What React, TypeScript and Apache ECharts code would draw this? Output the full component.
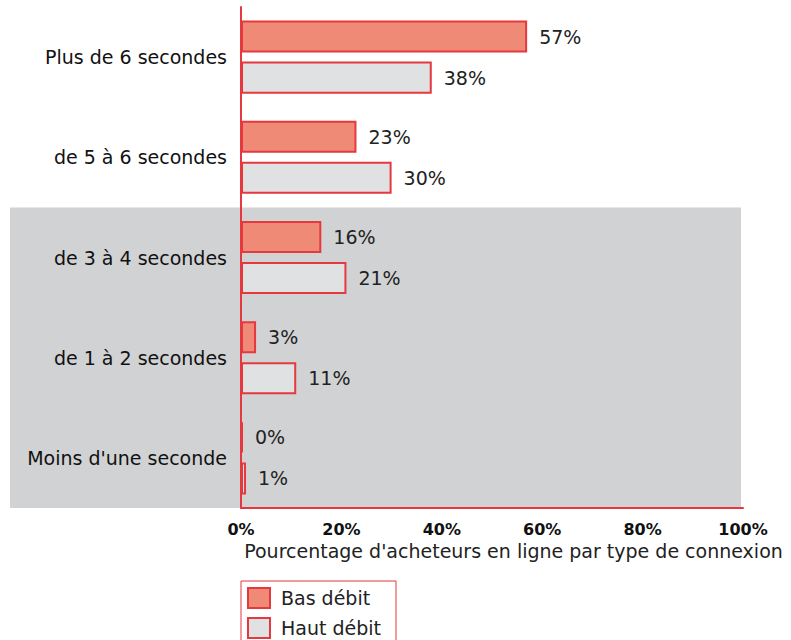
import React, { useEffect, useRef } from "react";
import * as echarts from "echarts";

const categories = [
  "Plus de 6 secondes",
  "de 5 à 6 secondes",
  "de 3 à 4 secondes",
  "de 1 à 2 secondes",
  "Moins d'une seconde",
];
const basDebit = [57, 23, 16, 3, 0];
const hautDebit = [38, 30, 21, 11, 1];
const seriesNames = ["Bas débit", "Haut débit"];
const shadedFromIndex = 2; // categories from this index downward sit on a grey band
const axisTitle = "Pourcentage d'acheteurs en ligne par type de connexion";

const RED = "#e5383f";
const FONT = "DejaVu Sans";

export default function App() {
  const ref = useRef<HTMLDivElement>(null);
  useEffect(() => {
    if (!ref.current) return;
    const chart = echarts.init(ref.current, null, { renderer: "svg" });
    const H = 640;
    const gridTop = 7;
    const gridBottom = 132;
    const plotH = H - gridTop - gridBottom;
    const shadeTop = gridTop + (plotH * shadedFromIndex) / categories.length;
    const labelStyle = {
      show: true,
      position: "right",
      distance: 12,
      formatter: "{c}%",
      color: "#222",
      fontFamily: FONT,
      fontSize: 19,
    };
    chart.setOption({
      animation: false,
      textStyle: { fontFamily: FONT },
      grid: [
        { left: 241, right: 48, top: gridTop, bottom: gridBottom, containLabel: false, z: 2 },
        {
          left: 10,
          right: 50,
          top: shadeTop,
          bottom: gridBottom,
          containLabel: false,
          show: true,
          backgroundColor: "#d1d2d4",
          borderWidth: 0,
          z: 0,
        },
      ],
      legend: {
        orient: "vertical",
        left: 241,
        top: 581,
        height: 90,
        borderColor: RED,
        borderWidth: 1,
        padding: [6, 15, 6, 6],
        itemWidth: 22,
        itemHeight: 20,
        itemGap: 8,
        icon: "rect",
        textStyle: { fontFamily: FONT, fontSize: 19, color: "#222", padding: [0, 0, 0, 6] },
        data: seriesNames,
      },
      xAxis: [
        {
          gridIndex: 0,
          type: "value",
          min: 0,
          max: 100,
          interval: 20,
          axisLine: { show: true, lineStyle: { color: RED, width: 2 } },
          axisTick: { show: false },
          splitLine: { show: false },
          axisLabel: {
            formatter: "{value}%",
            fontWeight: "bold",
            fontSize: 16,
            color: "#111",
            margin: 13,
            fontFamily: FONT,
          },
          name: axisTitle,
          nameLocation: "middle",
          nameGap: 31,
          nameTextStyle: { fontSize: 19, color: "#222", fontFamily: FONT, padding: [0, 0, 0, 43] },
        },
        {
          gridIndex: 1,
          type: "value",
          min: 0,
          max: 100,
          show: false,
        },
      ],
      yAxis: [
        {
          gridIndex: 0,
          type: "category",
          inverse: true,
          data: categories,
          axisLine: { show: true, lineStyle: { color: RED, width: 2 } },
          axisTick: { show: false },
          axisLabel: { fontSize: 19, color: "#111", margin: 14, fontFamily: FONT },
          z: 3,
        },
        {
          gridIndex: 1,
          type: "category",
          inverse: true,
          data: categories.slice(shadedFromIndex),
          show: false,
        },
      ],
      series: [
        {
          name: seriesNames[0],
          type: "bar",
          xAxisIndex: 0,
          yAxisIndex: 0,
          data: basDebit,
          barGap: "28%",
          barCategoryGap: "27%",
          barMinHeight: 2,
          itemStyle: { color: "#ef8a77", borderColor: RED, borderWidth: 2 },
          label: labelStyle,
          z: 2,
        },
        {
          name: seriesNames[1],
          type: "bar",
          xAxisIndex: 0,
          yAxisIndex: 0,
          data: hautDebit,
          barGap: "28%",
          barCategoryGap: "27%",
          itemStyle: { color: "#e0e1e3", borderColor: RED, borderWidth: 2 },
          label: labelStyle,
          z: 2,
        },
      ],
    });
    return () => chart.dispose();
  }, []);
  return <div ref={ref} style={{ width: 791, height: 640, position: "absolute", left: 0, top: 0 }} />;
}
